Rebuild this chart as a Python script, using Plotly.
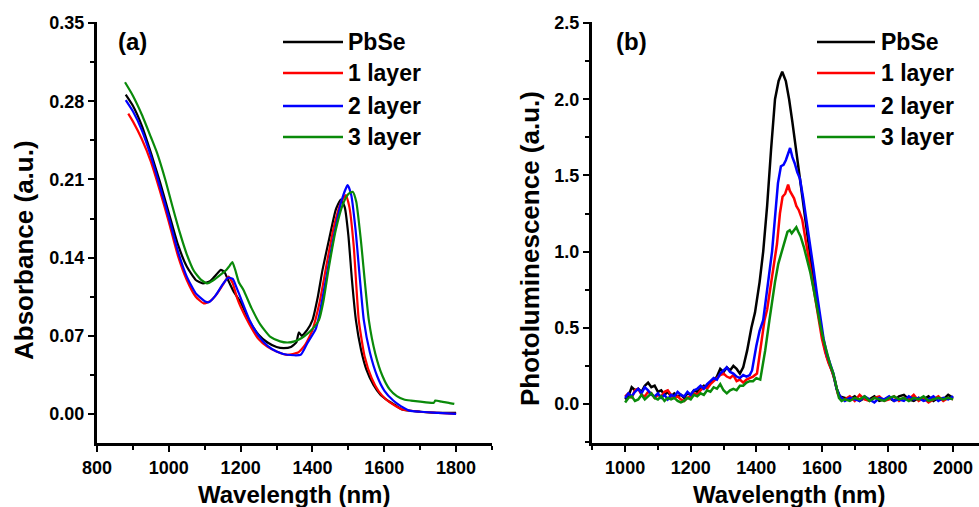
import plotly.graph_objects as go

# ---------------- data ----------------
series_names = ["PbSe", "1 layer", "2 layer", "3 layer"]
series_colors = ["#000000", "#ff0000", "#0000ff", "#0a8a0a"]

# (a) Absorbance
abs_pbse_wl = [880, 900, 925, 950, 975, 1000, 1025, 1050, 1075, 1095, 1115, 1130, 1145, 1155, 1165, 1180,
               1200, 1225, 1250, 1275, 1300, 1320, 1340, 1355, 1362, 1370, 1385, 1400, 1415, 1428, 1448,
               1465, 1479, 1490, 1500, 1510, 1521, 1535, 1550, 1570, 1590, 1610, 1630, 1650, 1700, 1750, 1800]
abs_pbse = [0.286, 0.276, 0.258, 0.234, 0.208, 0.180, 0.152, 0.132, 0.120, 0.117, 0.119, 0.124, 0.129, 0.127,
            0.120, 0.110, 0.100, 0.083, 0.071, 0.064, 0.060, 0.059, 0.060, 0.064, 0.073, 0.070, 0.075, 0.084,
            0.105, 0.129, 0.159, 0.183, 0.192, 0.185, 0.160, 0.120, 0.084, 0.058, 0.040, 0.026, 0.017, 0.012,
            0.008, 0.004, 0.002, 0.001, 0.001]

abs_l1_wl = [887, 900, 925, 950, 975, 1000, 1025, 1050, 1075, 1097, 1115, 1135, 1155, 1166, 1178, 1190, 1200,
             1225, 1250, 1275, 1300, 1330, 1360, 1380, 1400, 1408, 1420, 1440, 1460, 1480, 1493, 1503, 1515,
             1529, 1545, 1565, 1585, 1605, 1627, 1650, 1700, 1750, 1800]
abs_l1 = [0.269, 0.262, 0.246, 0.226, 0.200, 0.172, 0.142, 0.120, 0.105, 0.099, 0.101, 0.108, 0.118, 0.123,
          0.117, 0.104, 0.096, 0.080, 0.067, 0.060, 0.056, 0.053, 0.055, 0.062, 0.075, 0.084, 0.100, 0.135,
          0.168, 0.190, 0.196, 0.185, 0.150, 0.084, 0.052, 0.032, 0.020, 0.013, 0.008, 0.004, 0.002, 0.001, 0.000]

abs_l2_wl = [880, 900, 925, 950, 975, 1000, 1025, 1050, 1075, 1100, 1111, 1130, 1150, 1165, 1178, 1190, 1200,
             1225, 1250, 1275, 1300, 1330, 1367, 1385, 1409, 1420, 1440, 1460, 1480, 1498, 1508, 1520, 1543,
             1560, 1580, 1600, 1625, 1646, 1670, 1700, 1750, 1800]
abs_l2 = [0.281, 0.271, 0.254, 0.231, 0.204, 0.176, 0.146, 0.123, 0.108, 0.101, 0.100, 0.106, 0.116, 0.122,
          0.121, 0.112, 0.104, 0.084, 0.070, 0.061, 0.056, 0.053, 0.053, 0.063, 0.076, 0.090, 0.125, 0.160,
          0.190, 0.205, 0.196, 0.165, 0.084, 0.055, 0.034, 0.021, 0.012, 0.007, 0.003, 0.002, 0.001, 0.000]

abs_l3_wl = [878, 900, 925, 950, 967, 990, 1010, 1030, 1050, 1070, 1090, 1107, 1125, 1145, 1160, 1170, 1177,
             1185, 1195, 1208, 1230, 1255, 1283, 1310, 1330, 1350, 1370, 1390, 1405, 1418, 1430, 1445, 1465,
             1485, 1500, 1512, 1522, 1535, 1557, 1575, 1595, 1615, 1635, 1655, 1674, 1700, 1738, 1742, 1760,
             1780, 1795]
abs_l3 = [0.297, 0.285, 0.268, 0.248, 0.234, 0.210, 0.186, 0.163, 0.143, 0.128, 0.120, 0.117, 0.120, 0.125,
          0.129, 0.133, 0.136, 0.129, 0.118, 0.111, 0.095, 0.080, 0.069, 0.065, 0.064, 0.065, 0.068, 0.073,
          0.078, 0.084, 0.100, 0.130, 0.165, 0.188, 0.197, 0.199, 0.190, 0.155, 0.084, 0.054, 0.034, 0.022,
          0.016, 0.013, 0.012, 0.011, 0.010, 0.012, 0.011, 0.010, 0.009]

# (b) Photoluminescence
pl_head_wl = [1000, 1010, 1020, 1030, 1040, 1050, 1060, 1070, 1080, 1090, 1100, 1110, 1120, 1130, 1140, 1150,
              1160, 1170, 1180, 1190, 1200, 1210, 1220, 1230, 1240, 1250, 1260, 1270, 1280, 1290, 1300, 1310,
              1320, 1330, 1340, 1350]
pl_tail_wl = [1670, 1685, 1700, 1715, 1730, 1745, 1760, 1775, 1790, 1805, 1820, 1835, 1850, 1865, 1880, 1895,
              1910, 1925, 1940, 1955, 1970, 1985, 2000]

pl_pbse_head = [0.03, 0.05, 0.11, 0.09, 0.10, 0.08, 0.12, 0.14, 0.11, 0.12, 0.08, 0.09, 0.06, 0.08, 0.05, 0.07,
                0.05, 0.06, 0.04, 0.07, 0.06, 0.09, 0.08, 0.10, 0.12, 0.11, 0.14, 0.16, 0.18, 0.23, 0.21, 0.24,
                0.22, 0.25, 0.23, 0.20]
pl_pbse_mid_wl = [1360, 1372, 1385, 1396, 1410, 1421, 1433, 1445, 1457, 1468, 1479, 1490, 1500, 1510, 1521,
                  1530, 1543, 1555, 1565, 1575, 1585, 1595, 1605, 1615, 1625, 1635, 1645, 1655]
pl_pbse_mid = [0.24, 0.35, 0.50, 0.60, 0.80, 1.00, 1.30, 1.67, 2.00, 2.12, 2.18, 2.12, 2.00, 1.85, 1.67, 1.52,
               1.32, 1.12, 0.95, 0.80, 0.66, 0.52, 0.40, 0.31, 0.25, 0.19, 0.10, 0.05]
pl_pbse_tail = [0.04, 0.03, 0.05, 0.02, 0.04, 0.03, 0.05, 0.02, 0.03, 0.04, 0.02, 0.05, 0.06, 0.03, 0.02, 0.04,
                0.03, 0.05, 0.02, 0.04, 0.03, 0.06, 0.04]

pl_l1_head = [0.05, 0.07, 0.04, 0.09, 0.10, 0.06, 0.05, 0.08, 0.07, 0.04, 0.06, 0.05, 0.08, 0.09, 0.06, 0.04,
              0.05, 0.03, 0.02, 0.04, 0.05, 0.07, 0.06, 0.09, 0.11, 0.10, 0.13, 0.15, 0.17, 0.19, 0.20, 0.18,
              0.17, 0.19, 0.15, 0.16]
pl_l1_mid_wl = [1360, 1370, 1380, 1390, 1402, 1415, 1425, 1433, 1445, 1455, 1463, 1472, 1480, 1488, 1493, 1497,
                1502, 1508, 1515, 1522, 1530, 1540, 1550, 1560, 1570, 1580, 1590, 1600, 1610, 1620, 1630, 1640,
                1648, 1655]
pl_l1_mid = [0.14, 0.16, 0.17, 0.18, 0.20, 0.40, 0.55, 0.62, 0.80, 0.95, 1.05, 1.25, 1.36, 1.38, 1.42, 1.44,
             1.40, 1.38, 1.35, 1.30, 1.27, 1.21, 1.08, 0.96, 0.82, 0.68, 0.55, 0.43, 0.34, 0.27, 0.22, 0.15,
             0.07, 0.04]
pl_l1_tail = [0.03, 0.05, 0.02, 0.06, 0.03, 0.02, 0.04, 0.05, 0.02, 0.03, 0.05, 0.02, 0.04, 0.03, 0.06, 0.02,
              0.04, 0.01, 0.03, 0.05, 0.02, 0.04, 0.03]

pl_l2_head = [0.04, 0.07, 0.05, 0.08, 0.10, 0.07, 0.11, 0.09, 0.06, 0.05, 0.07, 0.04, 0.06, 0.03, 0.06, 0.05,
              0.08, 0.06, 0.05, 0.08, 0.06, 0.09, 0.10, 0.12, 0.10, 0.13, 0.15, 0.17, 0.16, 0.20, 0.22, 0.24,
              0.21, 0.20, 0.18, 0.17]
pl_l2_mid_wl = [1360, 1370, 1380, 1387, 1400, 1410, 1421, 1435, 1448, 1458, 1466, 1475, 1483, 1490, 1497, 1503,
                1510, 1517, 1525, 1533, 1543, 1555, 1565, 1575, 1585, 1595, 1605, 1615, 1625, 1635, 1645, 1655]
pl_l2_mid = [0.19, 0.18, 0.19, 0.22, 0.38, 0.48, 0.55, 0.80, 1.00, 1.25, 1.45, 1.56, 1.57, 1.60, 1.64, 1.68,
             1.62, 1.58, 1.52, 1.48, 1.35, 1.18, 1.02, 0.88, 0.72, 0.56, 0.43, 0.33, 0.26, 0.20, 0.10, 0.05]
pl_l2_tail = [0.02, 0.04, 0.03, 0.02, 0.05, 0.03, 0.01, 0.04, 0.03, 0.05, 0.02, 0.03, 0.02, 0.05, 0.03, 0.04,
              0.02, 0.03, 0.05, 0.02, 0.04, 0.03, 0.05]

pl_l3_head = [0.01, 0.04, 0.05, 0.02, 0.03, 0.06, 0.03, 0.05, 0.07, 0.04, 0.03, 0.05, 0.02, 0.04, 0.03, 0.04,
              0.02, 0.01, 0.02, 0.04, 0.03, 0.06, 0.05, 0.07, 0.06, 0.09, 0.08, 0.11, 0.10, 0.13, 0.09, 0.07,
              0.09, 0.10, 0.09, 0.12]
pl_l3_mid_wl = [1360, 1370, 1380, 1390, 1400, 1412, 1420, 1427, 1440, 1450, 1457, 1467, 1478, 1488, 1495, 1502,
                1508, 1515, 1522, 1528, 1535, 1545, 1555, 1565, 1575, 1585, 1595, 1605, 1615, 1625, 1635, 1645,
                1652, 1660]
pl_l3_mid = [0.12, 0.14, 0.15, 0.15, 0.17, 0.16, 0.25, 0.35, 0.55, 0.70, 0.80, 0.92, 1.00, 1.08, 1.13, 1.14,
             1.12, 1.14, 1.16, 1.13, 1.10, 1.03, 0.95, 0.86, 0.75, 0.63, 0.52, 0.42, 0.33, 0.26, 0.20, 0.11,
             0.04, 0.02]
pl_l3_tail = [0.03, 0.02, 0.04, 0.03, 0.05, 0.02, 0.04, 0.03, 0.02, 0.04, 0.05, 0.03, 0.04, 0.02, 0.04, 0.03,
              0.05, 0.02, 0.03, 0.04, 0.03, 0.04, 0.03]

abs_x_ticks = [800, 1000, 1200, 1400, 1600, 1800]
abs_y_ticks = [0.00, 0.07, 0.14, 0.21, 0.28, 0.35]
pl_x_ticks = [1000, 1200, 1400, 1600, 1800, 2000]
pl_y_ticks = [0.0, 0.5, 1.0, 1.5, 2.0, 2.5]

# ---------------- figure ----------------
W, H = 979, 507
FONT = "Liberation Sans, Arial, sans-serif"


def px(x):
    return x / W


def py(y):
    return 1 - y / H


abs_series = [(abs_pbse_wl, abs_pbse), (abs_l1_wl, abs_l1), (abs_l2_wl, abs_l2), (abs_l3_wl, abs_l3)]
pl_series = [
    (pl_head_wl + pl_pbse_mid_wl + pl_tail_wl, pl_pbse_head + pl_pbse_mid + pl_pbse_tail),
    (pl_head_wl + pl_l1_mid_wl + pl_tail_wl, pl_l1_head + pl_l1_mid + pl_l1_tail),
    (pl_head_wl + pl_l2_mid_wl + pl_tail_wl, pl_l2_head + pl_l2_mid + pl_l2_tail),
    (pl_head_wl + pl_l3_mid_wl + pl_tail_wl, pl_l3_head + pl_l3_mid + pl_l3_tail),
]

fig = go.Figure()
for name, color, (xs, ys) in zip(series_names, series_colors, abs_series):
    fig.add_trace(go.Scatter(x=xs, y=ys, mode="lines", name=name, showlegend=False,
                             line=dict(color=color, width=2.2, shape="spline", smoothing=0.5),
                             xaxis="x", yaxis="y"))
for name, color, (xs, ys) in zip(series_names, series_colors, pl_series):
    fig.add_trace(go.Scatter(x=xs, y=ys, mode="lines", name=name, showlegend=False,
                             line=dict(color=color, width=2.5),
                             xaxis="x2", yaxis="y2"))

tickfont = dict(family=FONT, size=18, color="black", weight="bold")
common_axis = dict(showline=True, linewidth=3, linecolor="black", ticks="outside", ticklen=6,
                   tickwidth=2, tickcolor="black", showgrid=False, zeroline=False, tickfont=tickfont,
                   automargin=False, mirror=False)
minor = dict(ticks="outside", ticklen=4, tickwidth=2, tickcolor="black", showgrid=False)

ydom = [py(443), py(22)]
fig.update_layout(
    width=W, height=H,
    margin=dict(l=0, r=0, t=0, b=0),
    paper_bgcolor="white", plot_bgcolor="white",
    showlegend=False,
    xaxis=dict(domain=[px(97), px(492)], range=[800, 1900], tickvals=abs_x_ticks,
               minor=dict(dtick=100, tick0=800, **minor), anchor="y", **common_axis),
    yaxis=dict(domain=ydom, range=[-0.026, 0.351], tickvals=abs_y_ticks, tickformat=".2f",
               minor=dict(dtick=0.035, tick0=0, **minor), anchor="x", **common_axis),
    xaxis2=dict(domain=[px(592), 1.0], range=[899, 2079], tickvals=pl_x_ticks,
                minor=dict(dtick=100, tick0=900, **minor), anchor="y2", **common_axis),
    yaxis2=dict(domain=ydom, range=[-0.256, 2.507], tickvals=pl_y_ticks, tickformat=".1f",
                minor=dict(dtick=0.25, tick0=0, **minor), anchor="x2", **common_axis),
)

annotations = []
shapes = []
title_font = dict(family=FONT, size=24, color="black", weight="bold")
ytitle_font = dict(family=FONT, size=26, color="black", weight="bold")
legend_font = dict(family=FONT, size=23, color="black", weight="bold")

annotations.append(dict(text="Wavelength (nm)", x=px(294), y=py(494), xref="paper", yref="paper",
                        showarrow=False, font=title_font, xanchor="center", yanchor="middle"))
annotations.append(dict(text="Wavelength (nm)", x=px(789), y=py(494), xref="paper", yref="paper",
                        showarrow=False, font=title_font, xanchor="center", yanchor="middle"))
annotations.append(dict(text="Absorbance (a.u.)", x=px(24), y=py(250), xref="paper", yref="paper",
                        showarrow=False, font=ytitle_font, textangle=-90, xanchor="center", yanchor="middle"))
annotations.append(dict(text="Photoluminescence (a.u.)", x=px(530), y=py(249), xref="paper", yref="paper",
                        showarrow=False, font=ytitle_font, textangle=-90, xanchor="center", yanchor="middle"))
annotations.append(dict(text="(a)", x=px(116), y=py(42), xref="paper", yref="paper", showarrow=False,
                        font=title_font, xanchor="left", yanchor="middle"))
annotations.append(dict(text="(b)", x=px(614), y=py(42), xref="paper", yref="paper", showarrow=False,
                        font=title_font, xanchor="left", yanchor="middle"))

legend_rows = [42, 73, 106, 137]
for x0, x1, tx in [(283, 343, 346), (817, 875, 879)]:
    for name, color, ry in zip(series_names, series_colors, legend_rows):
        shapes.append(dict(type="line", xref="paper", yref="paper", x0=px(x0), x1=px(x1),
                           y0=py(ry), y1=py(ry), line=dict(color=color, width=2.5)))
        annotations.append(dict(text=name, x=px(tx), y=py(ry), xref="paper", yref="paper",
                                showarrow=False, font=legend_font, xanchor="left", yanchor="middle"))

fig.update_layout(annotations=annotations, shapes=shapes)

fig.write_html("out.html", config={"displayModeBar": False},
               post_script="document.body.style.margin='0';")
